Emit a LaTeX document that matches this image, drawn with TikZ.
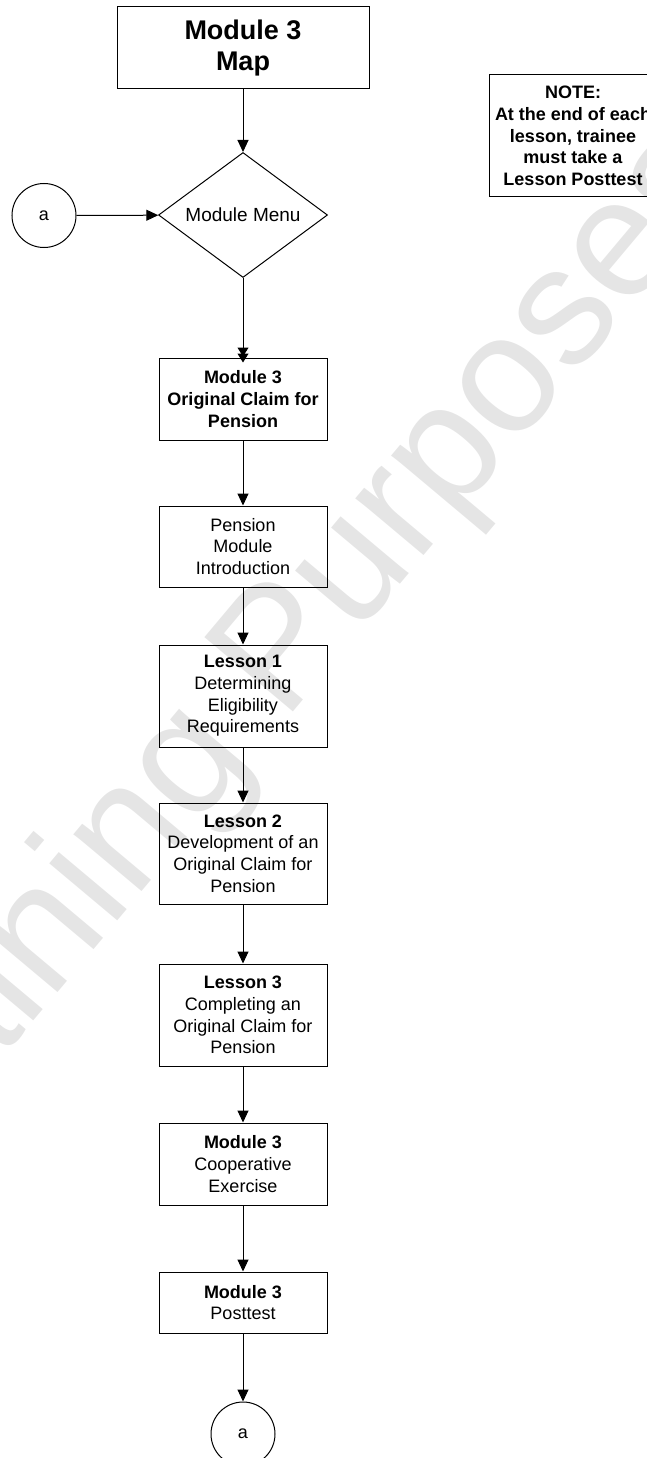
\documentclass[tikz,border=0pt]{standalone}
\usepackage{fontspec}
\setmainfont{Liberation Sans}
\usetikzlibrary{arrows.meta,shapes.geometric}
\begin{document}
\begin{tikzpicture}[x=1pt,y=1pt,
  box/.style={draw=black, line width=1pt, minimum width=168pt, inner sep=0pt, align=center, font=\fontsize{18}{21.7}\selectfont},
  conn/.style={draw=black, line width=1pt, -{Triangle[length=12pt,width=11pt]}},
  dconn/.style={draw=black, line width=1pt, -{Triangle[length=9pt,width=11pt,sep=-3pt]Triangle[length=9pt,width=11pt]}},
  conncirc/.style={circle, draw=black, line width=1pt, minimum size=64pt, inner sep=0pt, font=\fontsize{18}{21.7}\selectfont},
  decision/.style={diamond, draw=black, line width=1pt, minimum width=169pt, minimum height=125pt, aspect=1.352, inner sep=0pt, font=\fontsize{19}{22}\selectfont},
  wmark/.style={text=black!10, font=\fontsize{168}{168}\selectfont, inner sep=0pt}
]
\useasboundingbox (0,-1458) rectangle (647,0);
\begin{scope}
\clip (0,-1458) rectangle (647,0);
\node[wmark, rotate=50, anchor=base west] (wm) at (-132,-1218) {Training Purposes Only};
\end{scope}

\node[box, minimum width=252pt, minimum height=82pt, font=\bfseries\fontsize{27}{31}\selectfont] (title) at (243,-48) {Module 3\\Map};
\node[decision] (menu) at (243,-215) {Module Menu};
\node[conncirc] (a1) at (44,-215.5) {a};
\node[box, minimum height=122pt, font=\bfseries\fontsize{18}{21.7}\selectfont] (note) at (573,-136) {NOTE:\\At the end of each\\lesson, trainee\\must take a\\Lesson Posttest};

\node[box, minimum height=82pt] (orig) at (243,-399) {\textbf{Module 3}\\\textbf{Original Claim for}\\\textbf{Pension}};
\node[box, minimum height=81pt] (pens) at (243,-546.5) {Pension\\Module\\Introduction};
\node[box, minimum height=102pt] (l1) at (243,-696) {\textbf{Lesson 1}\\Determining\\Eligibility\\Requirements};
\node[box, minimum height=101pt] (l2) at (243,-853.5) {\textbf{Lesson 2}\\Development of an\\Original Claim for\\Pension};
\node[box, minimum height=102pt] (l3) at (243,-1015) {\textbf{Lesson 3}\\Completing an\\Original Claim for\\Pension};
\node[box, minimum height=82pt] (coop) at (243,-1164) {\textbf{Module 3}\\Cooperative\\Exercise};
\node[box, minimum height=61pt] (post) at (243,-1302.5) {\textbf{Module 3}\\Posttest};
\node[conncirc] (a2) at (243,-1434) {a};

\draw[conn] (title) -- (menu);
\draw[conn] (a1) -- (menu);
\draw[dconn] (menu.south) -- ([yshift=-5pt]orig.north);
\draw[conn] (orig) -- (pens);
\draw[conn] (pens) -- (l1);
\draw[conn] (l1) -- (l2);
\draw[conn] (l2) -- (l3);
\draw[conn] (l3) -- (coop);
\draw[conn] (coop) -- (post);
\draw[conn] (post) -- (a2);
\end{tikzpicture}
\end{document}
